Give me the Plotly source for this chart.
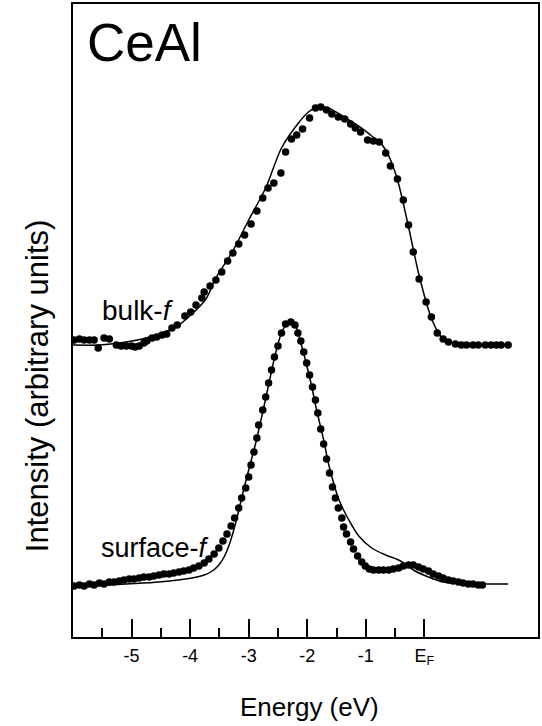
import plotly.graph_objects as go

# ---- data (energy in eV, intensity in arbitrary units) ----
bulk_dot_E = [-5.98, -5.89, -5.81, -5.72, -5.64, -5.57, -5.47, -5.38, -5.26, -5.18, -5.09, -5.00, -4.94,
              -4.87, -4.79, -4.74, -4.65, -4.57, -4.48, -4.40, -4.31, -4.22, -4.09, -3.99, -3.90, -3.80,
              -3.76, -3.66, -3.56, -3.46, -3.36, -3.27, -3.17, -3.07, -2.96, -2.86, -2.76, -2.67, -2.57,
              -2.45, -2.37, -2.27, -2.18, -2.08, -1.96, -1.86, -1.77, -1.67, -1.58, -1.47, -1.36, -1.26,
              -1.18, -1.09, -0.97, -0.87, -0.77, -0.66, -0.58, -0.46, -0.36, -0.27, -0.19, -0.09, 0.03,
              0.12, 0.22, 0.32, 0.41, 0.53, 0.63, 0.72, 0.83, 0.92, 1.04, 1.14, 1.23, 1.31, 1.43]
bulk_dot_I = [297, 298, 297, 297, 297, 289, 299, 298, 292, 291, 291, 291, 290,
              291, 294, 296, 299, 300, 302, 303, 309, 312, 321, 325, 332, 339,
              345, 351, 357, 365, 376, 384, 393, 402, 413, 426, 439, 449, 454,
              464, 485, 498, 502, 508, 519, 529, 530, 527, 523, 520, 518, 513,
              509, 505, 497, 496, 495, 484, 471, 458, 437, 412, 385, 358, 335,
              320, 304, 298, 295, 293, 292, 292, 292, 292, 292, 292, 292, 292, 292]

bulk_fit_E = [-6.01, -5.55, -5.21, -4.82, -4.53, -4.24, -3.97, -3.73, -3.56, -3.29, -3.00, -2.71, -2.44,
              -2.15, -1.98, -1.81, -1.64, -1.29, -1.05, -0.90, -0.78, -0.66, -0.55, -0.44, -0.27, -0.10,
              0.10, 0.24, 0.32, 0.41, 0.55, 0.72, 0.92, 1.43]
bulk_fit_I = [292, 292, 294, 298, 303, 310, 323, 338, 359, 384, 417, 449, 489,
              514, 525, 530, 529, 517, 508, 501, 496, 487, 473, 453, 410, 364,
              322, 304, 298, 295, 293, 292, 292, 292]

surf_dot_E = [-5.98, -5.89, -5.81, -5.72, -5.64, -5.55, -5.47, -5.38, -5.30, -5.21, -5.13, -5.04, -4.96,
              -4.87, -4.79, -4.70, -4.62, -4.53, -4.45, -4.36, -4.28, -4.19, -4.11, -4.02, -3.94, -3.85,
              -3.76, -3.68, -3.59, -3.51, -3.44, -3.37, -3.30, -3.24, -3.17, -3.12, -3.05, -3.00, -2.96,
              -2.91, -2.86, -2.83, -2.76, -2.71, -2.66, -2.61, -2.56, -2.50, -2.44, -2.37, -2.28, -2.21,
              -2.16, -2.11, -2.06, -2.01, -1.96, -1.91, -1.86, -1.82, -1.77, -1.72, -1.67, -1.62, -1.57,
              -1.52, -1.47, -1.41, -1.38, -1.33, -1.26, -1.21, -1.14, -1.07, -1.01, -0.94, -0.87, -0.78,
              -0.70, -0.61, -0.53, -0.44, -0.36, -0.27, -0.19, -0.10, -0.02, 0.07, 0.15, 0.24, 0.32,
              0.41, 0.49, 0.58, 0.66, 0.75, 0.83, 0.92, 0.99]
surf_dot_I = [51, 52, 51, 53, 52, 54, 53, 55, 55, 56, 57, 58, 58,
              59, 60, 60, 61, 62, 63, 63, 64, 65, 66, 67, 69, 71,
              74, 78, 83, 89, 96, 103, 111, 119, 129, 139, 149, 160, 172,
              185, 199, 212, 227, 240, 254, 267, 280, 291, 304, 313, 315, 312,
              304, 296, 285, 274, 262, 250, 237, 224, 208, 193, 178, 164, 150,
              139, 129, 119, 110, 103, 95, 88, 81, 75, 71, 68, 67, 67,
              67, 67, 68, 69, 71, 72, 72, 70, 68, 66, 63, 61, 59,
              57, 56, 55, 54, 53, 53, 52, 52]

surf_fit_E = [-6.01, -5.09, -4.53, -3.97, -3.76, -3.62, -3.51, -3.42, -3.34, -3.26, -3.18, -3.10, -3.00,
              -2.88, -2.76, -2.66, -2.56, -2.44, -2.32, -2.20, -2.10, -2.01, -1.93, -1.84, -1.72, -1.64,
              -1.55, -1.47, -1.38, -1.29, -1.12, -0.90, -0.66, -0.44, -0.30, -0.19, 0.07, 0.32, 0.58,
              0.92, 1.43]
surf_fit_I = [50, 53, 55, 59, 62, 66, 72, 80, 91, 106, 124, 144, 167,
              194, 225, 252, 279, 304, 315, 311, 292, 272, 252, 227, 197, 174,
              154, 139, 127, 117, 101, 89, 82, 77, 72, 67, 60, 55, 54,
              53, 53]

major_ticks = [-5, -4, -3, -2, -1, 0]
major_labels = ["-5", "-4", "-3", "-2", "-1", "E<sub>F</sub>"]
minor_ticks = [-5.5, -4.5, -3.5, -2.5, -1.5, -0.5]

X_RANGE = [-6.0, 1.94]
Y_RANGE = [0, 633]

FONT = "Liberation Sans, Arial, Helvetica, sans-serif"
W, H = 542, 726
ML, MR, MT, MB = 73, 2, 4, 89
PW, PH = W - ML - MR, H - MT - MB

def px(xp):
    return (xp - ML) / PW

def py(yp):
    return (H - MB - yp) / PH

fig = go.Figure()
for E, I in [(bulk_fit_E, bulk_fit_I), (surf_fit_E, surf_fit_I)]:
    fig.add_trace(go.Scatter(x=E, y=I, mode="lines", line=dict(color="black", width=1.5, shape="spline", smoothing=0.8),
                             showlegend=False, hoverinfo="skip"))
for E, I in [(bulk_dot_E, bulk_dot_I), (surf_dot_E, surf_dot_I)]:
    fig.add_trace(go.Scatter(x=E, y=I, mode="markers", marker=dict(color="black", size=7.5),
                             showlegend=False, hoverinfo="skip"))

# invisible trace on the minor-tick axis
fig.add_trace(go.Scatter(x=[X_RANGE[0]], y=[Y_RANGE[0]], xaxis="x2", mode="markers",
                         marker=dict(opacity=0), showlegend=False, hoverinfo="skip"))

fig.update_layout(
    width=W, height=H,
    margin=dict(l=ML, r=MR, t=MT, b=MB),
    paper_bgcolor="white", plot_bgcolor="white",
    font=dict(family=FONT, color="black"),
    xaxis=dict(range=X_RANGE, showgrid=False, zeroline=False, showline=True, linecolor="black",
               linewidth=2, mirror=True, ticks="inside", ticklen=18, tickwidth=1.5, tickcolor="black",
               tickvals=major_ticks, ticktext=major_labels, tickfont=dict(size=18, family=FONT),
               ticklabelstandoff=1),
    xaxis2=dict(range=X_RANGE, overlaying="x", showgrid=False, zeroline=False, showline=False,
                ticks="inside", ticklen=9, tickwidth=1.5, tickcolor="black",
                tickvals=minor_ticks, showticklabels=False, side="bottom", anchor="y"),
    yaxis=dict(range=Y_RANGE, showgrid=False, zeroline=False, showline=True, linecolor="black",
               linewidth=2, mirror=True, ticks="", showticklabels=False),
    annotations=[
        dict(text="CeAl", x=px(85), y=py(42), xref="paper", yref="paper", xanchor="left", yanchor="middle",
             showarrow=False, font=dict(size=53, family=FONT)),
        dict(text="bulk-<i>f</i>", x=px(100), y=py(310), xref="paper", yref="paper", xanchor="left",
             yanchor="middle", showarrow=False, font=dict(size=28, family=FONT)),
        dict(text="surface-<i>f</i>", x=px(99), y=py(548), xref="paper", yref="paper", xanchor="left",
             yanchor="middle", showarrow=False, font=dict(size=27, family=FONT)),
        dict(text="Energy (eV)", x=px(311), y=py(707), xref="paper", yref="paper", xanchor="center",
             yanchor="middle", showarrow=False, font=dict(size=26, family=FONT)),
        dict(text="Intensity (arbitrary units)", x=px(38), y=py(386), xref="paper", yref="paper",
             xanchor="center", yanchor="middle", textangle=-90, showarrow=False,
             font=dict(size=31, family=FONT)),
    ],
)

fig.write_html("out.html")
